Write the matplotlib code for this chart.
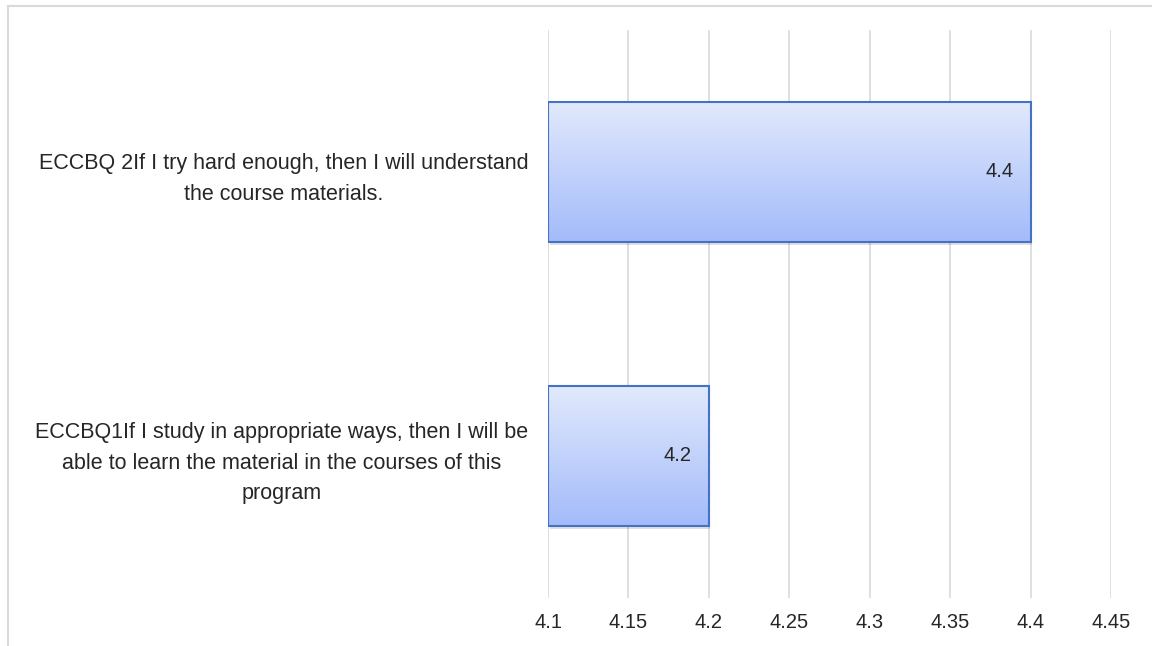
import numpy as np
import matplotlib
matplotlib.use("Agg")
import matplotlib.pyplot as plt
from matplotlib.colors import LinearSegmentedColormap
from matplotlib.lines import Line2D

# data
categories = [
    "ECCBQ1If I study in appropriate ways, then I will be\nable to learn the material in the courses of this\nprogram",
    "ECCBQ 2If I try hard enough, then I will understand\nthe course materials.",
]
values = [4.2, 4.4]
x_ticks = [4.1, 4.15, 4.2, 4.25, 4.3, 4.35, 4.4, 4.45]
x_min, x_max = 4.1, 4.45

plt.rcParams['font.family'] = ['Liberation Sans', 'DejaVu Sans']

fig = plt.figure(figsize=(11.52, 6.46), dpi=100)
ax = fig.add_axes([0.4757, 0.0743, 0.4887, 0.8793])

# outer chart frame (only left and top edges show)
fig.add_artist(Line2D([0.007, 0.007], [0.0, 0.991], transform=fig.transFigure,
                      color='#D9D9D9', lw=1.5))
fig.add_artist(Line2D([0.007, 1.0], [0.991, 0.991], transform=fig.transFigure,
                      color='#D9D9D9', lw=1.5))

y = np.arange(len(categories))
bar_h = 0.49
bars = ax.barh(y, [v - x_min for v in values], left=x_min, height=bar_h,
               color='none', edgecolor='#4472C4', linewidth=1.5, zorder=4)

grad = LinearSegmentedColormap.from_list('g', ['#A3BBFA', '#E2E9FD'])
gimg = np.linspace(0, 1, 256).reshape(-1, 1)
for b, v in zip(bars, values):
    x0, y0 = b.get_x(), b.get_y()
    w, h = b.get_width(), b.get_height()
    # soft shadow
    ax.add_patch(plt.Rectangle((x0 + 0.001, y0 - 0.012), w, h, color='#000000',
                               alpha=0.12, lw=0, zorder=2))
    ax.imshow(gimg, cmap=grad, aspect='auto', origin='lower',
              extent=(x0, x0 + w, y0, y0 + h), zorder=3)
    ax.text(x0 + w - 0.0105, y0 + h / 2, f"{v:g}", ha='right', va='center',
            fontsize=14.5, color='#262626', zorder=5)

ax.set_xlim(x_min, x_max)
ax.set_ylim(-0.5, len(categories) - 0.5)
ax.set_xticks(x_ticks)
ax.set_xticklabels([f"{t:g}" for t in x_ticks], fontsize=14.5, color='#262626')
ax.set_yticks(y)
ax.set_yticklabels(categories, fontsize=15.5, color='#262626',
                   multialignment='center', linespacing=1.6)
ax.tick_params(axis='both', length=0)
ax.tick_params(axis='x', pad=10.5)
ax.tick_params(axis='y', pad=14)
ax.grid(axis='x', color='#D9D9D9', linewidth=1.2, zorder=0)
ax.set_axisbelow(True)
for s in ax.spines.values():
    s.set_visible(False)

fig.savefig('out.png', dpi=100)
